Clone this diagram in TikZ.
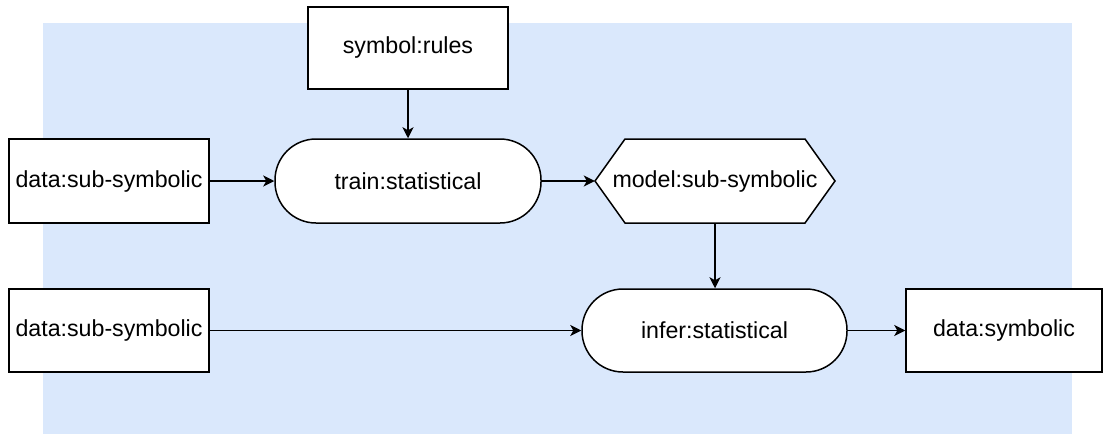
\documentclass[tikz,border=0pt]{standalone}
\usepackage{fontspec}
\setmainfont{Liberation Sans}
\usetikzlibrary{arrows.meta,positioning,calc}
\definecolor{bgblue}{HTML}{DAE8FC}
\tikzset{
  box/.style={draw=black, fill=white, line width=1.5pt, inner sep=0pt, font=\fontsize{23.2}{28}\selectfont},
  stadium/.style={box, rounded corners=41pt},
  conn/.style={line width=1.5pt, -{Stealth[length=11pt,width=11pt,inset=3pt]}},
}
\begin{document}
\begin{tikzpicture}[x=1pt,y=-1pt]
\useasboundingbox (0,0) rectangle (1103,434);
\fill[bgblue] (43,23) rectangle (1072,434);
\node[box, minimum width=200pt, minimum height=82pt] (sym) at (408,48) {symbol:rules};
\node[box, minimum width=200pt, minimum height=84pt] (d1) at (109,181) {data:sub-symbolic};
\node[stadium, minimum width=266pt, minimum height=84pt] (train) at (408,181) {train:statistical};
\coordinate (mc) at (715,181);
\draw[line width=1.5pt, fill=white, line join=miter]
  ($(mc)+(-120,0)$) -- ($(mc)+(-90,-42)$) -- ($(mc)+(90,-42)$) -- ($(mc)+(120,0)$)
  -- ($(mc)+(90,42)$) -- ($(mc)+(-90,42)$) -- cycle;
\node[inner sep=0pt, minimum width=240pt, minimum height=84pt, font=\fontsize{23.2}{28}\selectfont] (model) at (mc) {model:sub-symbolic};
\node[box, minimum width=200pt, minimum height=83pt] (d2) at (109,330.5) {data:sub-symbolic};
\node[stadium, minimum width=265pt, minimum height=83pt] (infer) at (714.5,330.5) {infer:statistical};
\node[box, minimum width=196pt, minimum height=83pt] (dsym) at (1004,330.5) {data:symbolic};
\draw[conn] (sym.south) -- (train.north);
\draw[conn] (d1.east) -- (train.west);
\draw[conn] (train.east) -- (model.west);
\draw[conn] (model.south) -- (model.south |- infer.north);
\draw[conn] (d2.east) -- (infer.west);
\draw[conn] (infer.east) -- (dsym.west);
\end{tikzpicture}
\end{document}
